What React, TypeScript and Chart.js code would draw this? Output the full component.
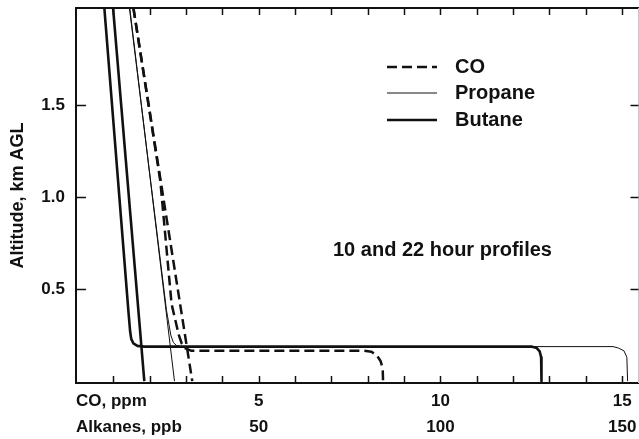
import { useEffect, useRef } from "react";
import { Chart, registerables } from "chart.js";

Chart.register(...registerables);

const FONT = "'Liberation Sans', Arial, Helvetica, sans-serif";

// ---- axes ----
const coRange = [-0.03, 15.45]; // CO, ppm
const alkRange = [-0.3, 154.5]; // Alkanes, ppb
const altRange = [-0.01, 2.03]; // km AGL
const coTicks = [5, 10, 15];
const alkTicks = [50, 100, 150];
const coMinorTicks = [1, 2, 3, 4, 5, 6, 7, 8, 9, 10, 11, 12, 13, 14, 15];
const altTicks = [0.5, 1.0, 1.5];

// ---- text ----
const seriesNames = ["CO", "Propane", "Butane"];
const xRowTitles = ["CO, ppm", "Alkanes, ppb"];
const yTitle = "Altitude, km AGL";
const annotation = "10 and 22 hour profiles";

// ---- profiles: [concentration, altitude km] ----
// CO (ppm)
const coSurfaceLayer: number[][] = [
  [1.55, 2.03], [2.29, 1.09], [2.6, 0.42], [2.8, 0.25], [2.88, 0.205], [2.98, 0.178],
  [3.15, 0.165], [7.9, 0.165], [8.1, 0.16], [8.25, 0.14], [8.35, 0.11], [8.41, 0.07], [8.42, 0],
];
const coMixed: number[][] = [[1.55, 2.03], [3.17, 0]];
// Propane (ppb)
const propaneSurfaceLayer: number[][] = [
  [14.4, 2.03], [24.6, 0.386], [25.8, 0.25], [26.5, 0.21], [27.4, 0.193], [28.6, 0.188],
  [147.5, 0.188], [149.0, 0.18], [150.5, 0.165], [151.3, 0.13], [151.5, 0],
];
const propaneMixed: number[][] = [[14.5, 2.03], [26.8, 0]];
// Butane (ppb)
const butaneSurfaceLayer: number[][] = [
  [7.5, 2.03], [14.1, 0.386], [14.6, 0.27], [14.9, 0.23], [15.5, 0.205], [16.6, 0.192],
  [18.5, 0.188], [125.0, 0.188], [126.5, 0.18], [127.3, 0.162], [127.7, 0.13], [127.8, 0],
];
const butaneMixed: number[][] = [[9.9, 2.03], [18.5, 0]];

const INK = "#111";
const seriesStyle: Record<string, { borderWidth: number; borderDash: number[] }> = {
  CO: { borderWidth: 2.5, borderDash: [10, 5] },
  Propane: { borderWidth: 1, borderDash: [] },
  Butane: { borderWidth: 2.6, borderDash: [] },
};

const toPts = (a: number[][]) => a.map(([x, y]) => ({ x, y }));

const mkDs = (name: string, pts: number[][], axis: string) => ({
  label: name,
  data: toPts(pts),
  xAxisID: axis,
  yAxisID: "y",
  showLine: true,
  pointRadius: 0,
  borderColor: INK,
  backgroundColor: INK,
  fill: false,
  tension: 0,
  borderCapStyle: "butt",
  borderJoinStyle: "round",
  ...seriesStyle[name],
});

const zeroPad = (s: any) => {
  s.paddingTop = 0;
  s.paddingBottom = 0;
  s.paddingLeft = 0;
  s.paddingRight = 0;
};

const decorPlugin = {
  id: "decor",
  afterDraw(chart: any) {
    const { ctx, chartArea } = chart;
    const { left, right, top, bottom } = chartArea;
    const xs = chart.scales.x;
    const x2 = chart.scales.x2;
    const ys = chart.scales.y;
    ctx.save();
    // frame
    ctx.strokeStyle = INK;
    ctx.lineWidth = 2;
    ctx.beginPath();
    ctx.moveTo(right + 1, top);
    ctx.lineTo(left, top);
    ctx.lineTo(left, bottom);
    ctx.lineTo(right + 1, bottom);
    ctx.stroke();
    ctx.strokeStyle = "#c8c8c8";
    ctx.lineWidth = 1;
    ctx.beginPath();
    ctx.moveTo(right, top);
    ctx.lineTo(right, bottom);
    ctx.stroke();
    // inward ticks
    ctx.strokeStyle = INK;
    ctx.lineWidth = 1.5;
    ctx.beginPath();
    for (const v of coMinorTicks) {
      const px = Math.round(xs.getPixelForValue(v)) + 0.5;
      ctx.moveTo(px, bottom);
      ctx.lineTo(px, bottom - 7);
      ctx.moveTo(px, top);
      ctx.lineTo(px, top + 7);
    }
    for (const v of altTicks) {
      const py = Math.round(ys.getPixelForValue(v)) + 0.5;
      ctx.moveTo(left, py);
      ctx.lineTo(left + 10, py);
      ctx.moveTo(right, py);
      ctx.lineTo(right - 8, py);
    }
    ctx.stroke();
    // x row titles
    ctx.fillStyle = INK;
    ctx.font = `bold 17px ${FONT}`;
    ctx.textAlign = "left";
    ctx.textBaseline = "middle";
    const rows = [xs, x2];
    rows.forEach((s: any, i: number) => {
      const y = s.top + s.options.ticks.padding + (17 * 1.2) / 2;
      ctx.fillText(xRowTitles[i], left, y);
    });
    // legend
    ctx.font = `bold 20px ${FONT}`;
    const legY = [67, 93, 120];
    seriesNames.forEach((name, i) => {
      const st = seriesStyle[name];
      ctx.strokeStyle = INK;
      ctx.lineWidth = st.borderWidth;
      ctx.setLineDash(st.borderDash);
      ctx.beginPath();
      ctx.moveTo(387, legY[i]);
      ctx.lineTo(437, legY[i]);
      ctx.stroke();
      ctx.setLineDash([]);
      ctx.fillText(name, 455, legY[i]);
    });
    // annotation
    ctx.font = `bold 20px ${FONT}`;
    ctx.fillText(annotation, 333, 250);
    ctx.restore();
  },
};

export default function App() {
  const ref = useRef<HTMLCanvasElement | null>(null);
  useEffect(() => {
    if (!ref.current) return;
    const tickFont = { family: FONT, size: 17, weight: "bold" as const };
    const chart = new Chart(ref.current, {
      type: "scatter",
      data: {
        datasets: [
          mkDs("Butane", butaneSurfaceLayer, "x2"),
          mkDs("Butane", butaneMixed, "x2"),
          mkDs("Propane", propaneSurfaceLayer, "x2"),
          mkDs("Propane", propaneMixed, "x2"),
          mkDs("CO", coSurfaceLayer, "x"),
          mkDs("CO", coMixed, "x"),
        ] as any,
      },
      options: {
        responsive: false,
        animation: false,
        events: [],
        layout: { padding: { top: 8, right: 0.5, left: 0, bottom: 0 } },
        plugins: { legend: { display: false }, tooltip: { enabled: false } },
        scales: {
          x: {
            type: "linear",
            position: "bottom",
            weight: 0,
            min: coRange[0],
            max: coRange[1],
            grid: { display: false, drawTicks: false },
            border: { display: false },
            ticks: {
              font: tickFont,
              color: INK,
              padding: 8,
              maxRotation: 0,
              autoSkip: false,
              callback: (v: any) => String(v),
            },
            afterBuildTicks: (s: any) => {
              s.ticks = coTicks.map((v) => ({ value: v }));
            },
            afterFit: (s: any) => {
              s.height = 25;
              zeroPad(s);
            },
          },
          x2: {
            type: "linear",
            position: "bottom",
            weight: 1,
            min: alkRange[0],
            max: alkRange[1],
            grid: { display: false, drawTicks: false },
            border: { display: false },
            ticks: {
              font: tickFont,
              color: INK,
              padding: 9,
              maxRotation: 0,
              autoSkip: false,
              callback: (v: any) => String(v),
            },
            afterBuildTicks: (s: any) => {
              s.ticks = alkTicks.map((v) => ({ value: v }));
            },
            afterFit: (s: any) => {
              s.height = 31;
              zeroPad(s);
            },
          },
          y: {
            type: "linear",
            position: "left",
            min: altRange[0],
            max: altRange[1],
            grid: { display: false, drawTicks: false },
            border: { display: false },
            title: {
              display: true,
              text: yTitle,
              font: { family: FONT, size: 18, weight: "bold" as const },
              color: INK,
              padding: { top: 7, bottom: 0 },
            },
            ticks: {
              font: tickFont,
              color: INK,
              padding: 11,
              callback: (v: any) => Number(v).toFixed(1),
            },
            afterBuildTicks: (s: any) => {
              s.ticks = altTicks.map((v) => ({ value: v }));
            },
            afterFit: (s: any) => {
              s.width = 76;
              zeroPad(s);
            },
          },
        },
      },
      plugins: [decorPlugin],
    });
    return () => chart.destroy();
  }, []);
  return (
    <div style={{ position: "absolute", left: 0, top: 0, width: 639, height: 439, background: "#fff" }}>
      <canvas ref={ref} width={639} height={439} style={{ display: "block" }} />
    </div>
  );
}
